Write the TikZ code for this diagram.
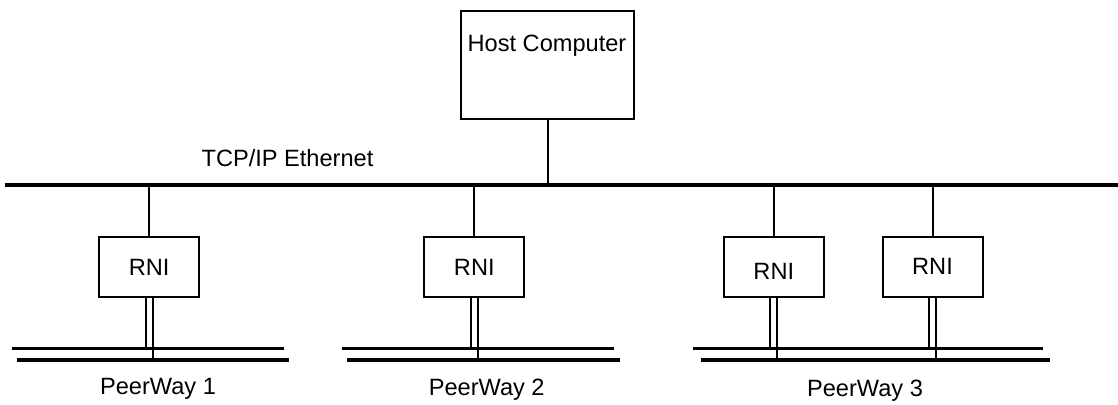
\documentclass[tikz,border=0pt]{standalone}
\usepackage{fontspec}
\setmainfont{Liberation Sans}
\tikzset{
  box/.style={draw, line width=1pt, inner sep=0pt},
  rnibox/.style={box, minimum width=50pt, minimum height=30pt},
  wire/.style={line width=1pt},
  bus/.style={line width=1.8pt},
  lbl/.style={inner sep=0pt, font=\fontsize{11.8}{14}\selectfont}
}
\begin{document}
\begin{tikzpicture}[x=0.5pt, y=-0.5pt]
            \useasboundingbox (0,0) rectangle (1118,404);

            %rete TCP/IP
            \coordinate (eth-l) at (5,185);
            \coordinate (eth-r) at (1118,185);
            \draw [bus] (eth-l) -- (eth-r);
            \node [lbl] (ethlbl) at (287.5,158) {TCP/IP Ethernet};

            %host
            \node [box, minimum width=86.8pt, minimum height=54.2pt] (host) at (547.5,65.2) {};
            \node [lbl] (hostlbl) at (547,46) {Host Computer};
            \draw [wire] (host.south) -- (host.south |- eth-l);

            %i quattro RNI
            \node [rnibox] (rni1) at (149.2,267) {};
            \node [lbl] at (rni1) {RNI};
            \node [rnibox] (rni2) at (474.3,267) {};
            \node [lbl] at (rni2) {RNI};
            \node [rnibox] (rni3) at (773.8,267) {};
            \node [lbl] at ([yshift=-2pt]rni3) {RNI};
            \node [rnibox] (rni4) at (932.5,267) {};
            \node [lbl] at ([yshift=0.5pt]rni4) {RNI};

            \draw [wire] (rni1.north) -- (rni1.north |- eth-l);
            \draw [wire] (rni2.north) -- (rni2.north |- eth-l);
            \draw [wire] (rni3.north) -- (rni3.north |- eth-l);
            \draw [wire] (rni4.north) -- (rni4.north |- eth-l);

            %PeerWay 1
            \coordinate (pw1a-l) at (12.3,348.3);
            \coordinate (pw1a-r) at (284.3,348.3);
            \coordinate (pw1b-l) at (17.3,360);
            \coordinate (pw1b-r) at (289.3,360);
            \draw [bus] (pw1a-l) -- (pw1a-r);
            \draw [bus] (pw1b-l) -- (pw1b-r);
            \draw [wire] ([xshift=-1.75pt]rni1.south) -- ([xshift=-1.75pt]rni1.south |- pw1a-l);
            \draw [wire] ([xshift=1.75pt]rni1.south) -- ([xshift=1.75pt]rni1.south |- pw1b-l);
            \node [lbl] (pw1) at (158,389) {PeerWay 1};

            %PeerWay 2
            \coordinate (pw2a-l) at (342.3,348.3);
            \coordinate (pw2a-r) at (614.3,348.3);
            \coordinate (pw2b-l) at (347.3,360);
            \coordinate (pw2b-r) at (620,360);
            \draw [bus] (pw2a-l) -- (pw2a-r);
            \draw [bus] (pw2b-l) -- (pw2b-r);
            \draw [wire] ([xshift=-1.75pt]rni2.south) -- ([xshift=-1.75pt]rni2.south |- pw2a-l);
            \draw [wire] ([xshift=1.75pt]rni2.south) -- ([xshift=1.75pt]rni2.south |- pw2b-l);
            \node [lbl] (pw2) at (486.7,390) {PeerWay 2};

            %PeerWay 3
            \coordinate (pw3a-l) at (693.3,348.3);
            \coordinate (pw3a-r) at (1043.3,348.3);
            \coordinate (pw3b-l) at (700.7,360);
            \coordinate (pw3b-r) at (1050,360);
            \draw [bus] (pw3a-l) -- (pw3a-r);
            \draw [bus] (pw3b-l) -- (pw3b-r);
            \draw [wire] ([xshift=-1.75pt]rni3.south) -- ([xshift=-1.75pt]rni3.south |- pw3a-l);
            \draw [wire] ([xshift=1.75pt]rni3.south) -- ([xshift=1.75pt]rni3.south |- pw3b-l);
            \draw [wire] ([xshift=-1.75pt]rni4.south) -- ([xshift=-1.75pt]rni4.south |- pw3a-l);
            \draw [wire] ([xshift=1.75pt]rni4.south) -- ([xshift=1.75pt]rni4.south |- pw3b-l);
            \node [lbl] (pw3) at (865,391) {PeerWay 3};

        \end{tikzpicture}
\end{document}
